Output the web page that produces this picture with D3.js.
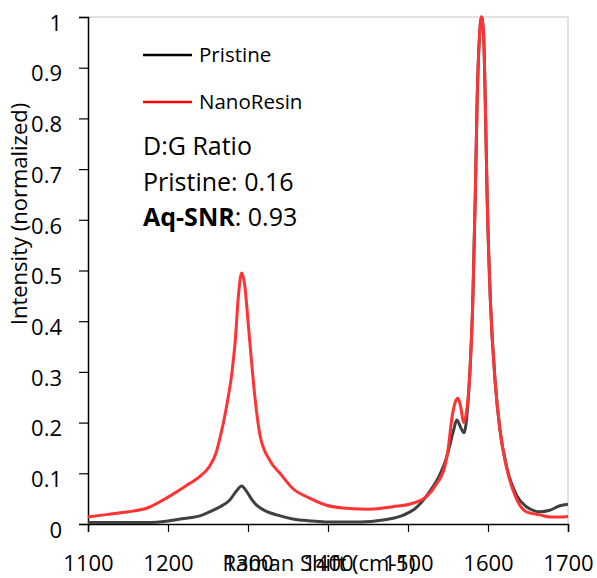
<!DOCTYPE html>
<html>
<head>
<meta charset="utf-8">
<script src="https://cdn.jsdelivr.net/npm/d3@7"></script>
<style>
  body { margin: 0; background: #fff; }
  svg text { font-family: "Open Sans", sans-serif; fill: #000; }
</style>
</head>
<body>
<div id="chart"></div>
<script>
// Raman shift (cm-1) and normalized intensity
var pristineShift = [1100, 1125, 1150, 1175, 1200, 1225, 1240, 1255, 1265, 1277, 1286, 1292, 1298, 1304, 1309, 1315, 1323, 1336, 1356, 1380, 1400, 1440, 1469, 1490, 1510, 1527, 1540, 1548, 1553, 1557, 1561, 1566, 1570, 1575, 1578, 1581, 1584, 1586.5, 1589.5, 1592, 1594.5, 1596.5, 1599, 1603, 1609, 1615, 1623, 1636, 1648, 1658, 1665, 1677, 1690, 1700];
var pristineIntensity = [0.003, 0.003, 0.003, 0.003, 0.006, 0.012, 0.016, 0.026, 0.034, 0.047, 0.066, 0.075, 0.065, 0.05, 0.04, 0.032, 0.025, 0.018, 0.010, 0.006, 0.004, 0.004, 0.008, 0.015, 0.032, 0.064, 0.098, 0.130, 0.16, 0.185, 0.205, 0.19, 0.18, 0.24, 0.32, 0.44, 0.64, 0.84, 0.965, 1.0, 0.965, 0.84, 0.64, 0.44, 0.28, 0.185, 0.115, 0.056, 0.034, 0.026, 0.024, 0.027, 0.036, 0.039];

var resinShift = [1100, 1125, 1150, 1175, 1200, 1225, 1240, 1252, 1260, 1265, 1273, 1280, 1284, 1288, 1292, 1296, 1300, 1305, 1309, 1315, 1327, 1340, 1356, 1377, 1398, 1423, 1452, 1481, 1506, 1523, 1536, 1546, 1550, 1555, 1559, 1562.5, 1566, 1569.5, 1573, 1577, 1581, 1584, 1586.5, 1589.5, 1592, 1594.5, 1596.5, 1599, 1603, 1609, 1615, 1623, 1636, 1648, 1665, 1677, 1690, 1700];
var resinIntensity = [0.014, 0.019, 0.024, 0.032, 0.053, 0.078, 0.094, 0.114, 0.14, 0.17, 0.23, 0.30, 0.36, 0.45, 0.495, 0.47, 0.40, 0.31, 0.245, 0.175, 0.126, 0.10, 0.07, 0.051, 0.037, 0.031, 0.029, 0.034, 0.041, 0.054, 0.08, 0.113, 0.146, 0.21, 0.24, 0.248, 0.23, 0.20, 0.22, 0.29, 0.44, 0.64, 0.84, 0.965, 1.0, 0.965, 0.84, 0.64, 0.44, 0.28, 0.185, 0.113, 0.048, 0.024, 0.018, 0.014, 0.014, 0.015];

var xTicks = [1100, 1200, 1300, 1400, 1500, 1600, 1700];
var yTicks = [0, 0.1, 0.2, 0.3, 0.4, 0.5, 0.6, 0.7, 0.8, 0.9, 1];
var seriesNames = ["Pristine", "NanoResin"];
var ratioLines = ["D:G Ratio", "Pristine: 0.16"];

function init() {
    var width = 597;
    var height = 578;
    var margin = { top: 17, right: 29, bottom: 54, left: 88 };

    var color = d3.scaleOrdinal().domain(seriesNames).range(["#404040", "#ff3333"]);

    var x = d3.scaleLinear()
        .domain([1100, 1700])
        .range([margin.left, width - margin.right]);

    var y = d3.scaleLinear()
        .domain([0, 1])
        .range([height - margin.bottom, margin.top]);

    var svg = d3.select("#chart")
        .append("svg")
        .attr("width", width)
        .attr("height", height);

    // light frame on top and right
    svg.append("path")
        .attr("d", "M" + x(1100) + "," + y(1) + "H" + x(1700) + "V" + y(0))
        .attr("fill", "none")
        .attr("stroke", "#d9d9d9")
        .attr("stroke-width", 1.5);

    // axes
    var xAxis = svg.append("g")
        .attr("transform", "translate(0," + y(0) + ")")
        .call(d3.axisBottom(x).tickValues(xTicks).tickSize(8).tickFormat(d3.format("d")));
    xAxis.select(".domain").attr("stroke", "#000").attr("stroke-width", 1.5);
    xAxis.selectAll(".tick line").attr("stroke", "#000").attr("stroke-width", 1.2);
    xAxis.selectAll(".tick text")
        .attr("y", 47)
        .attr("dy", 0)
        .style("font-size", "22px");

    var yAxis = svg.append("g")
        .attr("transform", "translate(" + x(1100) + ",0)")
        .call(d3.axisLeft(y).tickValues(yTicks).tickSize(9).tickFormat(d3.format("")));
    yAxis.select(".domain").attr("stroke", "#000").attr("stroke-width", 1.5);
    yAxis.selectAll(".tick line").attr("stroke", "#000").attr("stroke-width", 1.2);
    yAxis.selectAll(".tick text")
        .attr("x", -26)
        .attr("dy", "0.6em")
        .style("font-size", "22px");

    // axis titles (the x title sits on the tick labels, as in the source)
    svg.append("text")
        .attr("x", 319)
        .attr("y", 571)
        .attr("text-anchor", "middle")
        .style("font-size", "22px")
        .text("Raman Shift (cm-1)");

    svg.append("text")
        .attr("transform", "translate(27,214) rotate(-90)")
        .attr("text-anchor", "middle")
        .style("font-size", "22px")
        .text("Intensity (normalized)");

    // lines
    var line = d3.line()
        .x(function (d) { return x(d[0]); })
        .y(function (d) { return y(d[1]); })
        .curve(d3.curveMonotoneX);

    var pristine = d3.zip(pristineShift, pristineIntensity);
    var resin = d3.zip(resinShift, resinIntensity);

    svg.append("path")
        .datum(pristine)
        .attr("fill", "none")
        .attr("stroke", color("Pristine"))
        .attr("stroke-width", 3)
        .attr("d", line);

    svg.append("path")
        .datum(resin)
        .attr("fill", "none")
        .attr("stroke", color("NanoResin"))
        .attr("stroke-width", 3)
        .attr("d", line);

    // legend
    var legend = svg.selectAll(".legend")
        .data(seriesNames)
        .enter()
        .append("g")
        .attr("class", "legend")
        .attr("transform", function (d, i) { return "translate(143," + (55 + i * 47) + ")"; });

    legend.append("line")
        .attr("x1", 0)
        .attr("x2", 49)
        .attr("stroke", function (d, i) { return i === 0 ? "#000" : "#ff0000"; })
        .attr("stroke-width", 2.5);

    legend.append("text")
        .attr("x", 56)
        .attr("y", 7)
        .style("font-size", "20.5px")
        .text(function (d) { return d; });

    // D:G ratio note
    svg.selectAll(".ratio")
        .data(ratioLines)
        .enter()
        .append("text")
        .attr("class", "ratio")
        .attr("x", 143)
        .attr("y", function (d, i) { return 155 + i * 36; })
        .style("font-size", "25px")
        .text(function (d) { return d; });

    var aq = svg.append("text")
        .attr("x", 143)
        .attr("y", 226)
        .style("font-size", "25px");
    aq.append("tspan").style("font-weight", "bold").text("Aq-SNR");
    aq.append("tspan").text(": 0.93");
}

window.onload = init;
</script>
</body>
</html>
